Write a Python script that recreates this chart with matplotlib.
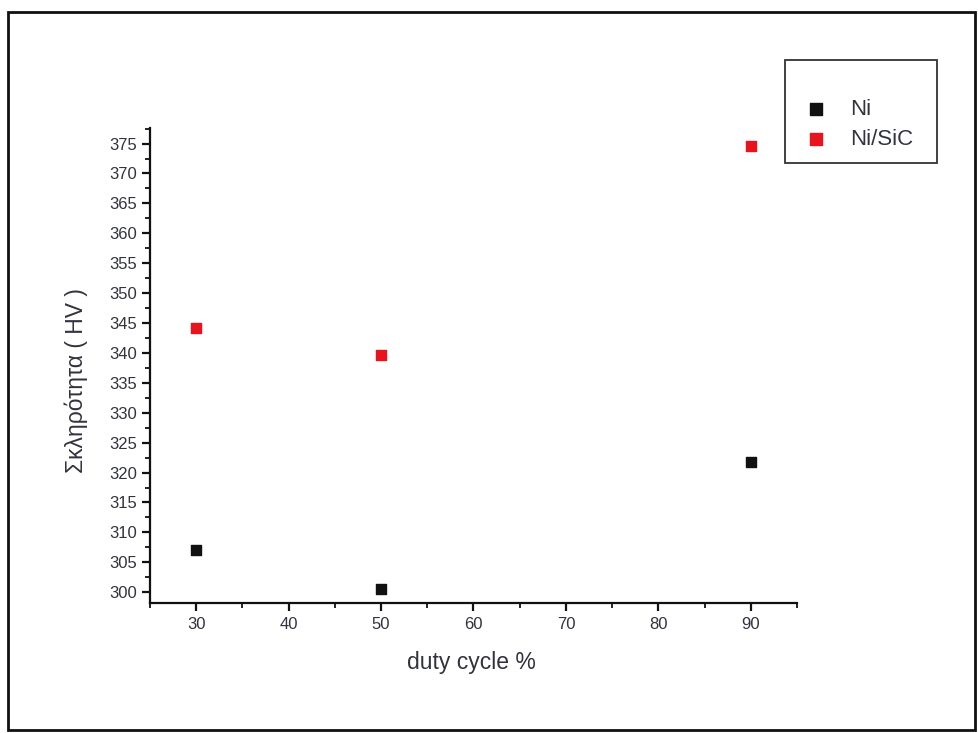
import matplotlib
matplotlib.use("Agg")
import matplotlib.pyplot as plt
from matplotlib.patches import Rectangle
from matplotlib.ticker import MultipleLocator

plt.rcParams['font.family'] = ['Liberation Sans', 'DejaVu Sans']

duty_cycle = [30, 50, 90]
ni_values = [307.0, 300.6, 321.7]
ni_sic_values = [344.2, 339.6, 374.6]
x_ticks = [30, 40, 50, 60, 70, 80, 90]
y_ticks = list(range(300, 380, 5))

W, H = 979, 733
fig = plt.figure(figsize=(W / 100, H / 100), dpi=100)
fig.patch.set_facecolor('white')

left, right, bottom, top = 150, 797, 603, 128
ax = fig.add_axes([left / W, 1 - bottom / H, (right - left) / W, (bottom - top) / H])

ax.scatter(duty_cycle, ni_values, marker='s', s=55, color='#111111', label='Ni', zorder=3)
ax.scatter(duty_cycle, ni_sic_values, marker='s', s=55, color='#e8131c', label='Ni/SiC', zorder=3)

ax.set_xlim(25, 95)
ax.set_ylim(298.2, 377.6)
ax.set_xticks(x_ticks)
ax.set_yticks(y_ticks)
ax.xaxis.set_minor_locator(MultipleLocator(5))
ax.yaxis.set_minor_locator(MultipleLocator(2.5))

for s in ['top', 'right']:
    ax.spines[s].set_visible(False)
for s in ['left', 'bottom']:
    ax.spines[s].set_linewidth(1.6)
    ax.spines[s].set_color('#111111')

ax.tick_params(axis='both', which='major', direction='out', length=6, width=1.6,
               labelsize=12, colors='#111111', labelcolor='#333340')
ax.tick_params(axis='both', which='minor', direction='out', length=3.5, width=1.3,
               colors='#111111')
ax.tick_params(axis='y', pad=3)
ax.tick_params(axis='x', pad=4)

ax.set_xlabel('duty cycle %', fontsize=16.5, color='#333340')
ax.set_ylabel('Σκληρότητα ( HV )', fontsize=16.5, color='#333340')
ax.xaxis.label.set_va('center')
ax.yaxis.label.set_va('center')
ax.xaxis.set_label_coords((471 - left) / (right - left), -(662 - bottom) / (bottom - top))
ax.yaxis.set_label_coords(-(left - 76) / (right - left), (bottom - 381) / (bottom - top))

leg = ax.legend(loc='upper left', bbox_to_anchor=(798 / W, 1 - 99 / H),
                bbox_transform=fig.transFigure, frameon=False,
                fontsize=16, borderpad=0, handletextpad=0.75, handlelength=1.6,
                labelspacing=0.4, scatterpoints=1, borderaxespad=0, markerscale=1.25)
for t in leg.get_texts():
    t.set_color('#333340')

fig.patches.append(Rectangle((785 / W, 1 - 163 / H), (937 - 785) / W, (163 - 60) / H,
                             transform=fig.transFigure, fill=False,
                             edgecolor='#333333', linewidth=1.3))
fig.patches.append(Rectangle((8 / W, 1 - 730 / H), (975 - 8) / W, (730 - 12) / H,
                             transform=fig.transFigure, fill=False,
                             edgecolor='#111111', linewidth=2))

fig.savefig('out.png', dpi=100)
